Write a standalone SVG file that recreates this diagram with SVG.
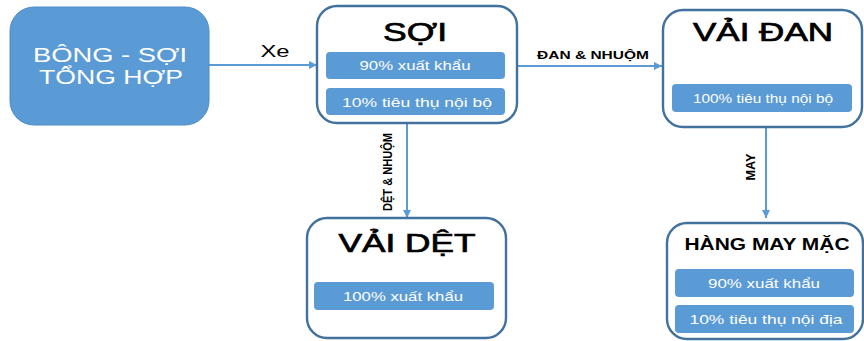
<svg xmlns="http://www.w3.org/2000/svg" width="864" height="341" viewBox="0 0 864 341">
<style>
.box{fill:#fff;stroke:#41719c;stroke-width:2.4}
.bar{fill:#5b9bd5}
.bt{fill:#fff;font-family:"Liberation Sans",Arial,sans-serif;font-size:13px;text-anchor:middle}
.title{fill:#000;stroke:#000;stroke-width:0.7;font-family:"Liberation Sans",Arial,sans-serif;font-size:25px;text-anchor:middle}
.lbl{fill:#000;font-family:"Liberation Sans",Arial,sans-serif;font-size:11px;font-weight:bold;text-anchor:middle}
.rl{fill:#000;font-family:"Liberation Sans",Arial,sans-serif;font-size:13px;font-weight:bold;text-anchor:middle}
.conn{stroke:#5b9bd5;stroke-width:2;fill:none;marker-end:url(#ah)}
</style>
<defs>
<marker id="ah" viewBox="0 0 10 10" refX="10" refY="5" markerWidth="5" markerHeight="4" orient="auto" markerUnits="strokeWidth">
<path d="M0,0 L10,5 L0,10 z" fill="#5b9bd5"/>
</marker>
</defs>
<rect width="864" height="341" fill="#fff"/>
<g id="connectors">
<line class="conn" x1="209" y1="65" x2="317" y2="65"/>
<line class="conn" x1="517" y1="66" x2="662" y2="66"/>
<line class="conn" x1="407" y1="124" x2="407" y2="218"/>
<line class="conn" x1="766" y1="127" x2="766" y2="218"/>
<text style="fill:#000;font-family:'Liberation Sans',Arial,sans-serif;font-size:16px;text-anchor:middle" x="275" y="57" textLength="29" lengthAdjust="spacingAndGlyphs">Xe</text>
<text class="lbl" x="593" y="59" textLength="112" lengthAdjust="spacingAndGlyphs">ĐAN &amp; NHUỘM</text>
<text class="rl" transform="translate(392,172) rotate(-90)" textLength="78" lengthAdjust="spacingAndGlyphs">DỆT &amp; NHUỘM</text>
<text class="rl" transform="translate(755,167) rotate(-90)" textLength="27" lengthAdjust="spacingAndGlyphs">MAY</text>
</g>
<g id="bong">
<rect x="10" y="7" width="199" height="118" rx="24" fill="#5b9bd5" stroke="#4f8cc6" stroke-width="1"/>
<text style="fill:#fff;font-family:'Liberation Sans',Arial,sans-serif;font-size:21px;text-anchor:middle" x="110" y="62" textLength="154" lengthAdjust="spacingAndGlyphs">BÔNG - SỢI</text>
<text style="fill:#fff;font-family:'Liberation Sans',Arial,sans-serif;font-size:21px;text-anchor:middle" x="111" y="84" textLength="144" lengthAdjust="spacingAndGlyphs">TỔNG HỢP</text>
</g>
<g id="soi">
<rect class="box" x="317" y="6" width="200" height="117" rx="20"/>
<text class="title" x="415" y="41" textLength="64" lengthAdjust="spacingAndGlyphs">SỢI</text>
<rect class="bar" x="326" y="52" width="179" height="27" rx="4"/>
<text class="bt" x="415" y="70" textLength="111" lengthAdjust="spacingAndGlyphs">90% xuất khẩu</text>
<rect class="bar" x="326" y="88" width="179" height="27" rx="4"/>
<text class="bt" x="417" y="107" textLength="150" lengthAdjust="spacingAndGlyphs">10% tiêu thụ nội bộ</text>
</g>
<g id="vaidan">
<rect class="box" x="663" y="10" width="199" height="117" rx="20"/>
<text class="title" x="763" y="41" textLength="140" lengthAdjust="spacingAndGlyphs">VẢI ĐAN</text>
<rect class="bar" x="672" y="84" width="180" height="28" rx="4"/>
<text class="bt" x="763" y="103" textLength="140" lengthAdjust="spacingAndGlyphs">100% tiêu thụ nội bộ</text>
</g>
<g id="vaidet">
<rect class="box" x="307" y="218" width="199" height="120" rx="20"/>
<text class="title" x="407" y="252" textLength="137" lengthAdjust="spacingAndGlyphs">VẢI DỆT</text>
<rect class="bar" x="314" y="282" width="180" height="28" rx="4"/>
<text class="bt" x="403" y="301" textLength="120" lengthAdjust="spacingAndGlyphs">100% xuất khẩu</text>
</g>
<g id="hangmay">
<rect class="box" x="667" y="223" width="196" height="116" rx="20"/>
<text style="fill:#000;font-family:'Liberation Sans',Arial,sans-serif;font-size:16px;font-weight:bold;text-anchor:middle" x="767" y="250" textLength="165" lengthAdjust="spacingAndGlyphs">HÀNG MAY MẶC</text>
<rect class="bar" x="675" y="269" width="179" height="28" rx="4"/>
<text class="bt" x="764" y="288" textLength="112" lengthAdjust="spacingAndGlyphs">90% xuất khẩu</text>
<rect class="bar" x="675" y="305" width="179" height="28" rx="4"/>
<text class="bt" x="766" y="324" textLength="153" lengthAdjust="spacingAndGlyphs">10% tiêu thụ nội địa</text>
</g>
</svg>
